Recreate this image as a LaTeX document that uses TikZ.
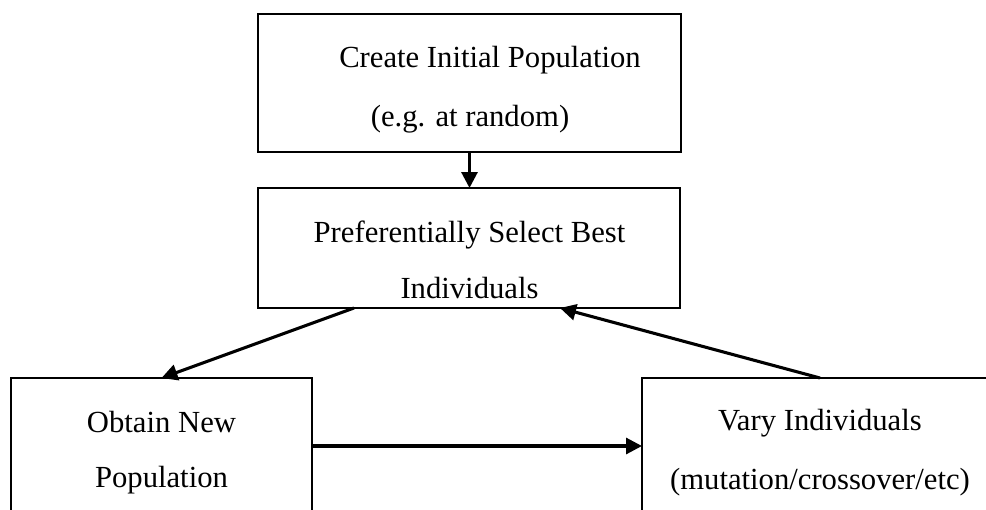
\documentclass[tikz,border=0pt]{standalone}
\usepackage{fontspec}
\setmainfont{Liberation Serif}
\usetikzlibrary{arrows.meta,calc}

\begin{document}
\begin{tikzpicture}[x=0.75pt,y=-0.75pt,
  stage/.style={draw,line width=1.7pt,rectangle,inner sep=0pt,outer sep=0pt},
  caption/.style={anchor=base,inner sep=0pt,font=\fontsize{23}{41}\selectfont},
  flow/.style={line width=2.3pt,-{Triangle[length=12pt,width=12pt]}}]

\useasboundingbox (0,0) rectangle (986,510);
\begin{scope}
\clip (0,0) rectangle (986,510);

% stages of the evolutionary loop
\node[stage,minimum width=423*0.75pt,minimum height=138*0.75pt] (init) at (469.5,83) {};
\node[stage,minimum width=422*0.75pt,minimum height=120*0.75pt] (select) at (469,248) {};
\node[stage,minimum width=301*0.75pt,minimum height=136*0.75pt] (newpop) at (161.5,446) {};
\node[stage,minimum width=356*0.75pt,minimum height=136*0.75pt] (vary) at (820,446) {};

% labels
\node[caption] (initA) at (490,68) {Create Initial Population};
\node[caption] (initB) at (470,127) {(e.g. at random)};
\node[caption] (selA) at (469.5,242) {Preferentially Select Best};
\node[caption] (selB) at (469.5,298) {Individuals};
\node[caption] (newA) at (161.5,432) {Obtain New};
\node[caption] (newB) at (161.5,487) {Population};
\node[caption] (varA) at (820,430) {Vary Individuals};
\node[caption] (varB) at (820,489) {(mutation/crossover/etc)};

% connectors
\coordinate (selOut) at ($(select.south west)+(96,0)$);
\coordinate (selIn) at ($(select.south west)+(302,0)$);
\draw[flow] (init.south) -- (init.south |- select.north);
\draw[flow] (selOut) -- (newpop.north);
\draw[flow] (newpop.east) -- (vary.west);
\draw[flow] (vary.north) -- (selIn);
\end{scope}
\end{tikzpicture}
\end{document}
